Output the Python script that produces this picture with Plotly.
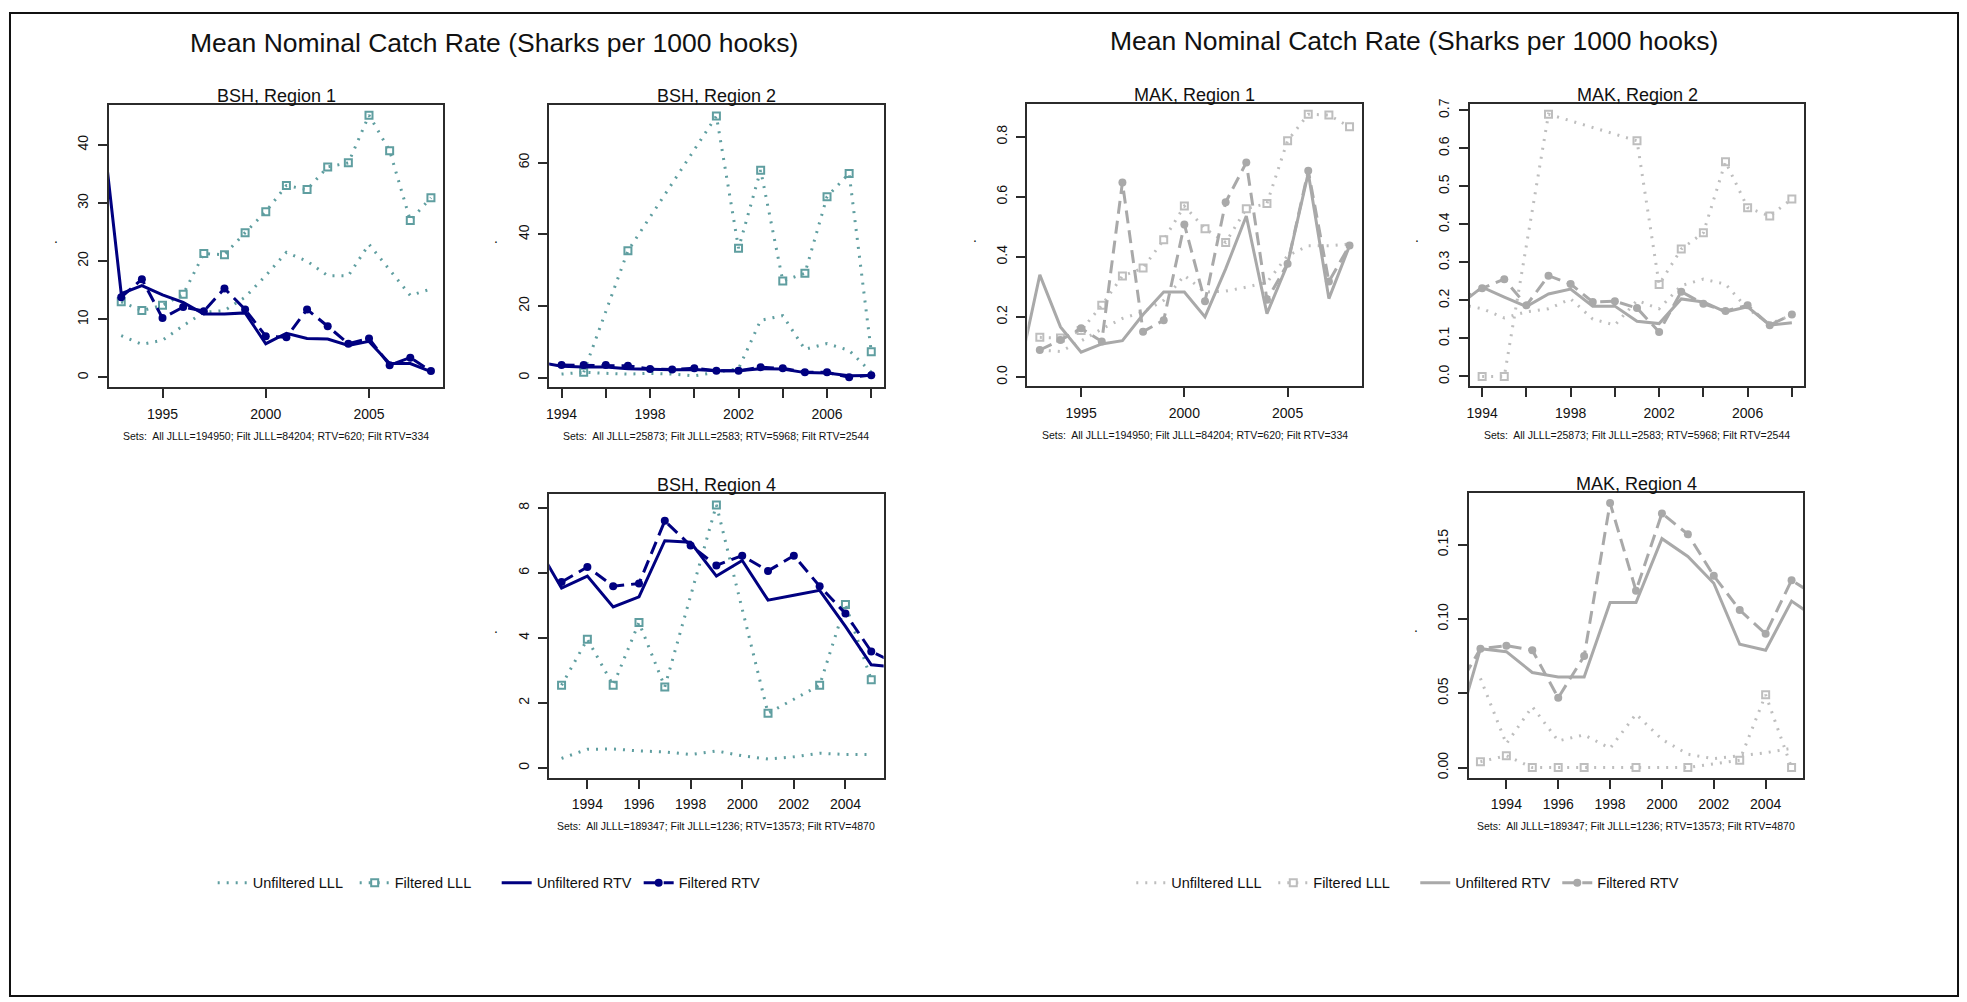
import plotly.graph_objects as go

# -------------------------------
# Data (catch rate, sharks per 1000 hooks)
# -------------------------------
# BSH, Region 1
bsh1_unf_lll_yrs = list(range(1993, 2009))
bsh1_unf_lll = [7.2, 5.7, 6.4, 8.9, 11.2, 11.5, 13.8, 17.5, 21.5, 20.0, 17.5, 17.5, 22.9, 18.6, 14.1, 15.2]
bsh1_fil_lll_yrs = list(range(1993, 2009))
bsh1_fil_lll = [13.0, 11.5, 12.4, 14.3, 21.3, 21.1, 24.9, 28.5, 33.0, 32.3, 36.2, 36.9, 45.1, 39.0, 27.0, 30.9]
bsh1_unf_rtv_yrs = list(range(1992, 2009))
bsh1_unf_rtv = [46.0, 14.4, 15.8, 14.2, 12.9, 10.9, 10.9, 11.1, 5.8, 7.6, 6.7, 6.6, 5.5, 6.2, 2.4, 2.4, 1.0]
bsh1_fil_rtv_yrs = list(range(1993, 2009))
bsh1_fil_rtv = [13.8, 16.9, 10.2, 12.1, 11.4, 15.3, 11.7, 7.1, 6.9, 11.7, 8.8, 5.8, 6.7, 2.1, 3.4, 1.1]

# BSH, Region 2
bsh2_unf_lll_yrs = list(range(1994, 2009))
bsh2_unf_lll = [1.0, 1.5, 1.2, 1.0, 1.2, 1.0, 0.5, 1.5, 2.5, 16.0, 17.3, 7.9, 9.5, 7.6, 1.5]
bsh2_fil_lll_yrs = [1995, 1997, 2001, 2002, 2003, 2004, 2005, 2006, 2007, 2008]
bsh2_fil_lll = [1.5, 35.4, 73.0, 36.1, 57.9, 27.0, 29.1, 50.5, 57.0, 7.2]
bsh2_unf_rtv_yrs = list(range(1993, 2009))
bsh2_unf_rtv = [4.3, 3.2, 3.0, 3.0, 2.5, 2.3, 2.2, 2.3, 1.9, 1.9, 2.5, 2.4, 1.4, 1.3, 0.5, 0.6]
bsh2_fil_rtv_yrs = list(range(1994, 2009))
bsh2_fil_rtv = [3.5, 3.5, 3.5, 3.3, 2.4, 2.3, 2.6, 1.9, 1.9, 2.9, 2.6, 1.5, 1.5, 0.1, 0.7]

# BSH, Region 4
bsh4_unf_lll_yrs = list(range(1993, 2006))
bsh4_unf_lll = [0.29, 0.57, 0.58, 0.52, 0.49, 0.41, 0.52, 0.37, 0.27, 0.34, 0.45, 0.41, 0.41]
bsh4_fil_lll_yrs = [1993, 1994, 1995, 1996, 1997, 1999, 2001, 2003, 2004, 2005]
bsh4_fil_lll = [2.54, 3.96, 2.54, 4.47, 2.49, 8.09, 1.68, 2.54, 5.03, 2.71]
bsh4_unf_rtv_yrs = list(range(1992, 2007))
bsh4_unf_rtv = [6.9, 5.53, 5.90, 4.95, 5.26, 6.99, 6.94, 5.90, 6.38, 5.16, 5.31, 5.46, 4.35, 3.17, 3.1]
bsh4_fil_rtv_yrs = list(range(1993, 2007))
bsh4_fil_rtv = [5.72, 6.18, 5.59, 5.67, 7.60, 6.84, 6.23, 6.53, 6.06, 6.53, 5.59, 4.75, 3.58, 3.2]

# MAK, Region 1
mak1_unf_lll_yrs = list(range(1993, 2009))
mak1_unf_lll = [0.090, 0.085, 0.12, 0.16, 0.195, 0.217, 0.255, 0.338, 0.283, 0.286, 0.299, 0.315, 0.404, 0.437, 0.437, 0.443]
mak1_fil_lll_yrs = list(range(1993, 2009))
mak1_fil_lll = [0.132, 0.13, 0.155, 0.239, 0.336, 0.363, 0.457, 0.569, 0.494, 0.448, 0.560, 0.578, 0.787, 0.875, 0.872, 0.833]
mak1_unf_rtv_yrs = list(range(1992, 2009))
mak1_unf_rtv = [0.02, 0.340, 0.167, 0.083, 0.110, 0.121, 0.208, 0.283, 0.283, 0.200, 0.36, 0.536, 0.211, 0.376, 0.679, 0.261, 0.437]
mak1_fil_rtv_yrs = list(range(1993, 2009))
mak1_fil_rtv = [0.090, 0.123, 0.162, 0.118, 0.648, 0.151, 0.189, 0.508, 0.252, 0.582, 0.714, 0.257, 0.377, 0.687, 0.318, 0.438]

# MAK, Region 2
mak2_unf_lll_yrs = list(range(1993, 2009))
mak2_unf_lll = [0.19, 0.178, 0.154, 0.170, 0.178, 0.204, 0.151, 0.135, 0.20, 0.178, 0.239, 0.256, 0.243, 0.178, 0.139, 0.161]
mak2_fil_lll_yrs = [1994, 1995, 1997, 2001, 2002, 2003, 2004, 2005, 2006, 2007, 2008]
mak2_fil_lll = [0.0, 0.0, 0.690, 0.620, 0.242, 0.335, 0.378, 0.565, 0.444, 0.422, 0.467]
mak2_unf_rtv_yrs = list(range(1993, 2009))
mak2_unf_rtv = [0.19, 0.235, 0.209, 0.184, 0.217, 0.230, 0.185, 0.185, 0.145, 0.139, 0.204, 0.196, 0.170, 0.183, 0.135, 0.141]
mak2_fil_rtv_yrs = list(range(1993, 2009))
mak2_fil_rtv = [0.20, 0.232, 0.256, 0.187, 0.265, 0.243, 0.196, 0.198, 0.180, 0.117, 0.223, 0.191, 0.172, 0.187, 0.135, 0.163]

# MAK, Region 4
mak4_unf_lll_yrs = list(range(1993, 2006))
mak4_unf_lll = [0.060, 0.016, 0.041, 0.018, 0.022, 0.013, 0.036, 0.019, 0.009, 0.006, 0.008, 0.010, 0.013]
mak4_fil_lll_yrs = [1993, 1994, 1995, 1996, 1997, 1999, 2001, 2003, 2004, 2005]
mak4_fil_lll = [0.004, 0.008, 0.0, 0.0, 0.0, 0.0, 0.0, 0.005, 0.049, 0.0]
mak4_unf_rtv_yrs = list(range(1992, 2007))
mak4_unf_rtv = [0.02, 0.080, 0.078, 0.064, 0.061, 0.061, 0.111, 0.111, 0.154, 0.142, 0.124, 0.083, 0.079, 0.112, 0.10]
mak4_fil_rtv_yrs = list(range(1992, 2007))
mak4_fil_rtv = [0.05, 0.080, 0.082, 0.079, 0.047, 0.075, 0.178, 0.119, 0.171, 0.157, 0.129, 0.106, 0.090, 0.126, 0.115]

# set counts printed under each panel
sets_r1 = "Sets:  All JLLL=194950; Filt JLLL=84204; RTV=620; Filt RTV=334"
sets_r2 = "Sets:  All JLLL=25873; Filt JLLL=2583; RTV=5968; Filt RTV=2544"
sets_r4 = "Sets:  All JLLL=189347; Filt JLLL=1236; RTV=13573; Filt RTV=4870"

series_names = ["Unfiltered LLL", "Filtered LLL", "Unfiltered RTV", "Filtered RTV"]

# -------------------------------
# Layout helpers
# -------------------------------
W, H = 1967, 1002
FONT = "Liberation Sans, Arial, sans-serif"
TEAL, NAVY = "#5F9EA0", "#000080"
GREY_LLL, GREY_RTV = "#BEBEBE", "#A9A9A9"
BOX = "#2b2b2b"

r1_ticks = ([1995, 2000, 2005], ["1995", "2000", "2005"])
r2_ticks = (list(range(1994, 2009, 2)), ["1994", "", "1998", "", "2002", "", "2006", ""])
r4_ticks = (list(range(1994, 2005, 2)), [str(y) for y in range(1994, 2005, 2)])

panels = [
    dict(title="BSH, Region 1", box=(106, 441, 100, 384), xr=[1992.4, 2008.6], yr=[-1.7, 46.8],
         xt=r1_ticks, yt=([0, 10, 20, 30, 40], ["0", "10", "20", "30", "40"]), sets=sets_r1,
         col=(TEAL, NAVY), legend="legend",
         data=[(bsh1_unf_lll_yrs, bsh1_unf_lll), (bsh1_fil_lll_yrs, bsh1_fil_lll),
               (bsh1_unf_rtv_yrs, bsh1_unf_rtv), (bsh1_fil_rtv_yrs, bsh1_fil_rtv)]),
    dict(title="BSH, Region 2", box=(547, 882, 100, 384), xr=[1993.44, 2008.56], yr=[-2.7, 76.0],
         xt=r2_ticks, yt=([0, 20, 40, 60], ["0", "20", "40", "60"]), sets=sets_r2,
         col=(TEAL, NAVY), legend="legend",
         data=[(bsh2_unf_lll_yrs, bsh2_unf_lll), (bsh2_fil_lll_yrs, bsh2_fil_lll),
               (bsh2_unf_rtv_yrs, bsh2_unf_rtv), (bsh2_fil_rtv_yrs, bsh2_fil_rtv)]),
    dict(title="BSH, Region 4", box=(547, 882, 491, 777), xr=[1992.52, 2005.48], yr=[-0.30, 8.44],
         xt=r4_ticks, yt=([0, 2, 4, 6, 8], ["0", "2", "4", "6", "8"]), sets=sets_r4,
         col=(TEAL, NAVY), legend="legend",
         data=[(bsh4_unf_lll_yrs, bsh4_unf_lll), (bsh4_fil_lll_yrs, bsh4_fil_lll),
               (bsh4_unf_rtv_yrs, bsh4_unf_rtv), (bsh4_fil_rtv_yrs, bsh4_fil_rtv)]),
    dict(title="MAK, Region 1", box=(1026, 1361, 99, 383), xr=[1992.4, 2008.6], yr=[-0.031, 0.908],
         xt=r1_ticks, yt=([0, 0.2, 0.4, 0.6, 0.8], ["0.0", "0.2", "0.4", "0.6", "0.8"]), sets=sets_r1,
         col=(GREY_LLL, GREY_RTV), legend="legend2",
         data=[(mak1_unf_lll_yrs, mak1_unf_lll), (mak1_fil_lll_yrs, mak1_fil_lll),
               (mak1_unf_rtv_yrs, mak1_unf_rtv), (mak1_fil_rtv_yrs, mak1_fil_rtv)]),
    dict(title="MAK, Region 2", box=(1469, 1804, 99, 383), xr=[1993.44, 2008.56], yr=[-0.026, 0.716],
         xt=r2_ticks, yt=([0, 0.1, 0.2, 0.3, 0.4, 0.5, 0.6, 0.7],
                          ["0.0", "0.1", "0.2", "0.3", "0.4", "0.5", "0.6", "0.7"]), sets=sets_r2,
         col=(GREY_LLL, GREY_RTV), legend="legend2",
         data=[(mak2_unf_lll_yrs, mak2_unf_lll), (mak2_fil_lll_yrs, mak2_fil_lll),
               (mak2_unf_rtv_yrs, mak2_unf_rtv), (mak2_fil_rtv_yrs, mak2_fil_rtv)]),
    dict(title="MAK, Region 4", box=(1468, 1803, 490, 777), xr=[1992.55, 2005.45], yr=[-0.0067, 0.185],
         xt=r4_ticks, yt=([0, 0.05, 0.10, 0.15], ["0.00", "0.05", "0.10", "0.15"]), sets=sets_r4,
         col=(GREY_LLL, GREY_RTV), legend="legend2",
         data=[(mak4_unf_lll_yrs, mak4_unf_lll), (mak4_fil_lll_yrs, mak4_fil_lll),
               (mak4_unf_rtv_yrs, mak4_unf_rtv), (mak4_fil_rtv_yrs, mak4_fil_rtv)]),
]

fig = go.Figure()
annotations = []
layout = {}
seen_legend = set()

for i, p in enumerate(panels, start=1):
    x0, x1, y0, y1 = p["box"]
    xa = "xaxis" if i == 1 else f"xaxis{i}"
    ya = "yaxis" if i == 1 else f"yaxis{i}"
    xref = "x" if i == 1 else f"x{i}"
    yref = "y" if i == 1 else f"y{i}"
    c_lll, c_rtv = p["col"]
    show = p["legend"] not in seen_legend
    seen_legend.add(p["legend"])

    styles = [
        dict(mode="lines", line=dict(color=c_lll, width=3, dash="2px,7px")),
        dict(mode="lines+markers", line=dict(color=c_lll, width=3, dash="2px,7px"),
             marker=dict(symbol="square-open", size=7, color=c_lll, line=dict(width=2, color=c_lll))),
        dict(mode="lines", line=dict(color=c_rtv, width=3)),
        dict(mode="lines+markers", line=dict(color=c_rtv, width=3, dash="13px,7px"),
             marker=dict(symbol="circle", size=8, color=c_rtv)),
    ]
    for name, (xs, ys), st in zip(series_names, p["data"], styles):
        fig.add_trace(go.Scatter(x=xs, y=ys, name=name, xaxis=xref, yaxis=yref,
                                 legend=p["legend"], showlegend=show, hoverinfo="skip", **st))

    axis_common = dict(showline=True, mirror=True, linecolor=BOX, linewidth=2, showgrid=False,
                       zeroline=False, ticks="outside", ticklen=9, tickwidth=2, tickcolor=BOX,
                       tickfont=dict(family=FONT, size=14, color="#111"), tickmode="array",
                       ticklabelstandoff=4)
    layout[xa] = dict(axis_common, domain=[x0 / W, x1 / W], range=p["xr"], anchor=yref,
                      tickvals=p["xt"][0], ticktext=p["xt"][1])
    layout[ya] = dict(axis_common, domain=[1 - y1 / H, 1 - y0 / H], range=p["yr"], anchor=xref,
                      tickvals=p["yt"][0], ticktext=p["yt"][1], tickangle=-90)

    xc = (x0 + x1) / 2
    annotations.append(dict(text=p["title"], x=xc / W, y=1 - (y0 - 9) / H, xref="paper", yref="paper",
                            showarrow=False, xanchor="center", yanchor="middle",
                            font=dict(family=FONT, size=18, color="#111")))
    annotations.append(dict(text=p["sets"], x=xc / W, y=1 - (y1 + 49) / H, xref="paper", yref="paper",
                            showarrow=False, xanchor="center", yanchor="middle",
                            font=dict(family=FONT, size=10.5, color="#111")))
    annotations.append(dict(text=".", x=(x0 - 53) / W, y=1 - ((y0 + y1) / 2 - 8) / H, xref="paper",
                            yref="paper", showarrow=False, xanchor="center", yanchor="middle",
                            font=dict(family=FONT, size=14, color="#111")))

for txt_x, txt_y in [(492, 37), (1413, 35)]:
    annotations.append(dict(text="Mean Nominal Catch Rate (Sharks per 1000 hooks)", x=txt_x / W,
                            y=1 - txt_y / H, xref="paper", yref="paper", showarrow=False,
                            xanchor="center", yanchor="middle",
                            font=dict(family=FONT, size=26.5, color="#111")))

legend_common = dict(orientation="h", yanchor="middle", y=1 - 883 / H, xanchor="left",
                     font=dict(family=FONT, size=14.5, color="#111"), bgcolor="rgba(0,0,0,0)",
                     entrywidth=97, entrywidthmode="pixels", traceorder="normal")

fig.update_layout(
    width=W, height=H,
    margin=dict(l=0, r=0, t=0, b=0),
    paper_bgcolor="white", plot_bgcolor="white",
    annotations=annotations,
    legend=dict(legend_common, x=210 / W),
    legend2=dict(legend_common, x=1130 / W),
    shapes=[dict(type="rect", xref="paper", yref="paper", x0=7 / W, x1=1958 / W,
                 y0=1 - 997 / H, y1=1 - 7 / H, line=dict(color="#111", width=2))],
    **layout,
)

fig.write_html("out.html", config={"displayModeBar": False},
               post_script="document.body.style.margin='0';")
